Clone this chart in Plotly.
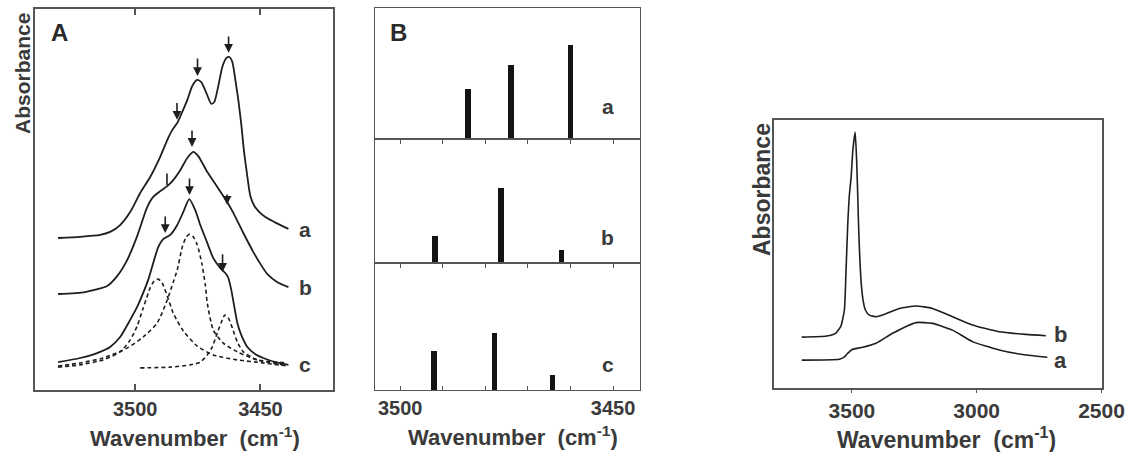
import plotly.graph_objects as go

W, H = 1132, 452

# ---------------- Panel A: OH stretching spectra ----------------
wn_a = [3530.8, 3522.0, 3514.0, 3510.0, 3506.0, 3502.0, 3498.0, 3494.0, 3490.0, 3487.2,
        3485.2, 3483.2, 3481.2, 3479.2, 3477.2, 3475.2, 3473.6, 3471.6, 3469.6, 3468.4,
        3466.8, 3465.2, 3463.6, 3462.4, 3461.2, 3460.0, 3458.8, 3457.6, 3456.6, 3455.4,
        3454.0, 3452.4, 3450.4, 3448.0, 3443.6, 3438.8]
abs_a = [0.399, 0.402, 0.407, 0.415, 0.433, 0.467, 0.517, 0.559, 0.612, 0.656,
         0.682, 0.701, 0.730, 0.761, 0.798, 0.814, 0.808, 0.780, 0.751, 0.756,
         0.798, 0.848, 0.871, 0.874, 0.861, 0.814, 0.761, 0.696, 0.630, 0.570,
         0.509, 0.483, 0.467, 0.454, 0.438, 0.423]

wn_b = [3530.8, 3520.0, 3511.2, 3507.2, 3503.2, 3499.2, 3495.2, 3492.8, 3490.0, 3487.2,
        3484.8, 3482.0, 3479.2, 3476.8, 3474.8, 3471.2, 3467.2, 3463.2, 3460.8, 3456.8,
        3452.8, 3450.0, 3447.2, 3443.2, 3438.8]
abs_b = [0.252, 0.257, 0.273, 0.299, 0.341, 0.404, 0.480, 0.507, 0.522, 0.535,
         0.551, 0.577, 0.609, 0.625, 0.614, 0.572, 0.533, 0.493, 0.465, 0.412,
         0.362, 0.331, 0.304, 0.283, 0.270]

wn_c = [3530.8, 3522.0, 3515.2, 3510.0, 3506.0, 3502.0, 3499.2, 3496.8, 3494.8, 3492.8,
        3490.8, 3488.8, 3486.0, 3483.2, 3480.8, 3478.4, 3476.0, 3474.0, 3471.2, 3468.8,
        3466.0, 3464.0, 3462.8, 3461.6, 3460.4, 3459.2, 3457.6, 3455.2, 3452.0, 3448.8,
        3444.0, 3438.8]
abs_c = [0.073, 0.084, 0.097, 0.113, 0.139, 0.184, 0.218, 0.255, 0.289, 0.333,
         0.375, 0.396, 0.407, 0.433, 0.467, 0.501, 0.472, 0.433, 0.386, 0.346,
         0.320, 0.307, 0.294, 0.262, 0.218, 0.176, 0.144, 0.113, 0.094, 0.084,
         0.073, 0.066]

# fitted component bands of spectrum c
wn_fit1 = [3530.8, 3522.0, 3512.8, 3506.0, 3502.0, 3499.2, 3496.8, 3494.0, 3492.4, 3490.8,
           3489.2, 3487.2, 3484.8, 3480.8, 3475.2, 3468.8, 3459.2, 3448.8, 3439.2]
abs_fit1 = [0.060, 0.066, 0.079, 0.100, 0.131, 0.168, 0.215, 0.268, 0.286, 0.291,
            0.281, 0.247, 0.202, 0.155, 0.115, 0.092, 0.079, 0.071, 0.063]

wn_fit2 = [3530.8, 3522.0, 3512.8, 3503.2, 3496.8, 3491.2, 3487.2, 3484.8, 3483.2, 3481.2,
           3479.6, 3478.2, 3476.8, 3475.2, 3473.4, 3472.0, 3471.2, 3468.8, 3464.8, 3459.2,
           3451.2, 3439.2]
abs_fit2 = [0.063, 0.071, 0.084, 0.110, 0.139, 0.176, 0.236, 0.283, 0.315, 0.375,
            0.402, 0.409, 0.402, 0.381, 0.333, 0.276, 0.228, 0.157, 0.123, 0.100,
            0.079, 0.071]

wn_fit3 = [3498.0, 3486.0, 3478.0, 3474.0, 3471.2, 3469.2, 3467.2, 3465.2, 3464.2, 3462.8,
           3461.2, 3459.2, 3456.8, 3451.2, 3440.8]
abs_fit3 = [0.058, 0.060, 0.066, 0.073, 0.092, 0.113, 0.150, 0.184, 0.197, 0.189,
            0.163, 0.126, 0.100, 0.079, 0.066]

# band markers: position, arrow tip, arrow tail, head style
mark_x = [3483.3, 3475.1, 3462.7, 3487.3, 3477.3, 3463.3, 3488.0, 3478.3, 3465.1]
mark_tip = [0.709, 0.824, 0.885, 0.538, 0.638, 0.486, 0.412, 0.512, 0.310]
mark_tail = [0.757, 0.874, 0.932, 0.572, 0.685, 0.517, 0.459, 0.559, 0.360]
mark_head = [2, 2, 2, 0, 2, 2, 2, 2, 2]

label_names = ["a", "b", "c"]
label_y_A = [0.420, 0.268, 0.066]

# ---------------- Panel B: calculated band positions ----------------
stick_wn_a = [3484.1, 3474.0, 3460.0]
stick_int_a = [0.391, 0.577, 0.735]
stick_wn_b = [3491.8, 3476.3, 3462.1]
stick_int_b = [0.217, 0.591, 0.105]
stick_wn_c = [3492.1, 3477.8, 3464.2]
stick_int_c = [0.307, 0.446, 0.113]
label_y_B = [0.252, 0.207, 0.197]

# ---------------- Right panel: wide-range spectra ----------------
wide_wn_b = [3701, 3601, 3564, 3544, 3530, 3524, 3517, 3510, 3503, 3496, 3487, 3481, 3476,
             3473, 3468, 3462, 3454, 3446, 3430, 3403, 3377, 3310, 3243, 3177, 3097, 3017,
             2910, 2803, 2723]
wide_abs_b = [0.190, 0.194, 0.205, 0.231, 0.291, 0.422, 0.601, 0.720, 0.787, 0.888, 0.955,
              0.851, 0.701, 0.601, 0.478, 0.384, 0.321, 0.291, 0.272, 0.266, 0.272, 0.297,
              0.306, 0.297, 0.266, 0.235, 0.210, 0.200, 0.195]
wide_wn_a = [3701, 3550, 3530, 3517, 3502, 3490, 3457, 3403, 3337, 3243, 3177, 3097, 3017,
             2910, 2803, 2717]
wide_abs_a = [0.104, 0.107, 0.116, 0.129, 0.142, 0.146, 0.152, 0.167, 0.204, 0.244, 0.241,
              0.216, 0.173, 0.142, 0.123, 0.115]
wide_label_wn = 2663
wide_label_y = [0.198, 0.104]
wide_label_names = ["b", "a"]

# ---------------- styling ----------------
FONT = "Liberation Sans"
TXT = "#3a3a3a"
INK = "#1e1e1e"
FRAME = "#555555"


def dom_x(x0, x1):
    return [x0 / W, x1 / W]


def dom_y(y_top, y_bot):
    return [1 - y_bot / H, 1 - y_top / H]


fig = go.Figure()

# Panel A: measured spectra (solid) and fitted components (dashed)
for wn, ab in [(wn_a, abs_a), (wn_b, abs_b), (wn_c, abs_c)]:
    fig.add_trace(go.Scatter(x=wn, y=ab, mode="lines", xaxis="x", yaxis="y",
                             line=dict(color=INK, width=1.8, shape="spline", smoothing=0.6),
                             showlegend=False, hoverinfo="skip"))
for wn, ab in [(wn_fit1, abs_fit1), (wn_fit2, abs_fit2), (wn_fit3, abs_fit3)]:
    fig.add_trace(go.Scatter(x=wn, y=ab, mode="lines", xaxis="x", yaxis="y",
                             line=dict(color=INK, width=1.6, dash="4px,3px",
                                       shape="spline", smoothing=0.6),
                             showlegend=False, hoverinfo="skip"))

# Panel B: stick spectra
for k, (wn, inten) in enumerate([(stick_wn_a, stick_int_a), (stick_wn_b, stick_int_b),
                                 (stick_wn_c, stick_int_c)]):
    fig.add_trace(go.Bar(x=wn, y=inten, width=1.3, marker=dict(color="#141414", line=dict(width=0)),
                         xaxis=f"x{k + 2}", yaxis=f"y{k + 2}", showlegend=False, hoverinfo="skip"))

# Right panel: full range
for wn, ab in [(wide_wn_b, wide_abs_b), (wide_wn_a, wide_abs_a)]:
    fig.add_trace(go.Scatter(x=wn, y=ab, mode="lines", xaxis="x5", yaxis="y5",
                             line=dict(color=INK, width=1.6, shape="spline", smoothing=0.5),
                             showlegend=False, hoverinfo="skip"))

frame = dict(showline=True, linecolor=FRAME, linewidth=1.5, mirror=True, zeroline=False,
             showgrid=False, automargin=False)
frame_b = {**frame, "linewidth": 1.1}
noy = dict(showticklabels=False, ticks="")
tickfont = dict(family=FONT, size=20, color=TXT, weight="bold")
b_ticks = [3500, 3490, 3480, 3470, 3460, 3450]

layout = dict(
    width=W, height=H, autosize=False,
    margin=dict(l=0, r=0, t=0, b=0, pad=0),
    paper_bgcolor="white", plot_bgcolor="white",
    bargap=0,
    xaxis=dict(domain=dom_x(35, 333), range=[3540, 3421], anchor="y",
               tickvals=[3500, 3450], ticktext=["3500", "3450"], ticks="inside",
               ticklen=6, tickwidth=1.5, tickcolor=FRAME, tickfont=tickfont,
               **{**frame, "mirror": "ticks"}),
    yaxis=dict(domain=dom_y(9, 390), range=[0, 1], anchor="x", **frame, **noy),
    xaxis2=dict(domain=dom_x(375, 639.5), range=[3505.9, 3443.8], anchor="y2",
                tickvals=b_ticks, showticklabels=False,
                ticks="outside", ticklen=4, tickwidth=1.2, tickcolor=FRAME, **frame_b),
    yaxis2=dict(domain=dom_y(8.3, 139), range=[0, 1.029], anchor="x2", **frame_b, **noy),
    xaxis3=dict(domain=dom_x(375, 639.5), range=[3505.9, 3443.8], anchor="y3",
                tickvals=b_ticks, showticklabels=False,
                ticks="outside", ticklen=4, tickwidth=1.2, tickcolor=FRAME, **frame_b),
    yaxis3=dict(domain=dom_y(139, 263.3), range=[0, 0.979], anchor="x3", **frame_b, **noy),
    xaxis4=dict(domain=dom_x(375, 639.5), range=[3505.9, 3443.8], anchor="y4",
                tickvals=b_ticks, ticktext=["3500", "", "", "", "", "3450"],
                ticks="inside", ticklen=4, tickwidth=1.2, tickcolor=FRAME,
                tickfont=tickfont, **frame_b),
    yaxis4=dict(domain=dom_y(263.3, 390), range=[0, 0.998], anchor="x4", **frame_b, **noy),
    xaxis5=dict(domain=dom_x(774, 1101.5), range=[3812, 2500], anchor="y5",
                tickvals=[3500, 3000, 2500], ticks="outside", ticklen=3, tickwidth=1.3,
                tickcolor=FRAME, tickfont=dict(family=FONT, size=21, color=TXT, weight="bold"),
                **frame),
    yaxis5=dict(domain=dom_y(120, 388), range=[0, 1], anchor="x5", **frame, **noy),
)
fig.update_layout(**layout)

ann = []
# band-position arrows in panel A
for x, tip, tail, head in zip(mark_x, mark_tip, mark_tail, mark_head):
    ann.append(dict(x=x, y=tip, ax=x, ay=tail, xref="x", yref="y", axref="x", ayref="y",
                    text="", showarrow=True, arrowhead=head, arrowsize=1.1, arrowwidth=1.6,
                    arrowcolor=INK, standoff=0))


def label(**kw):
    base = dict(showarrow=False, xanchor="center", yanchor="middle")
    base.update(kw)
    ann.append(base)


# curve labels
for name, yv in zip(label_names, label_y_A):
    label(x=3432, y=yv, xref="x", yref="y", text=name,
          font=dict(family=FONT, size=21, color=TXT, weight="bold"))
for k, (name, yv) in enumerate(zip(label_names, label_y_B)):
    label(x=3451.3, y=yv, xref=f"x{k + 2}", yref=f"y{k + 2}", text=name,
          font=dict(family=FONT, size=21, color=TXT, weight="bold"))
for name, yv in zip(wide_label_names, wide_label_y):
    label(x=wide_label_wn, y=yv, xref="x5", yref="y5", text=name,
          font=dict(family=FONT, size=22, color=TXT, weight="bold"))

# panel letters
for letter, px in [("A", 59), ("B", 398)]:
    label(x=px / W, y=1 - 32 / H, xref="paper", yref="paper", text=letter,
          font=dict(family=FONT, size=24, color="#2a2a2a", weight="bold"))

# axis titles
title_txt = "Wavenumber  (cm<sup>-1</sup>)"
for cx, cy, size in [(195, 437, 22), (513, 436, 22), (946, 438, 23)]:
    label(x=cx / W, y=1 - cy / H, xref="paper", yref="paper", text=title_txt,
          font=dict(family=FONT, size=size, color=TXT, weight="bold"))
for cx, cy, size in [(22, 74, 21), (762, 190, 23)]:
    label(x=cx / W, y=1 - cy / H, xref="paper", yref="paper", text="Absorbance",
          textangle=-90, font=dict(family=FONT, size=size, color=TXT, weight="bold"))

fig.update_layout(annotations=ann)
fig.write_html("out.html")
